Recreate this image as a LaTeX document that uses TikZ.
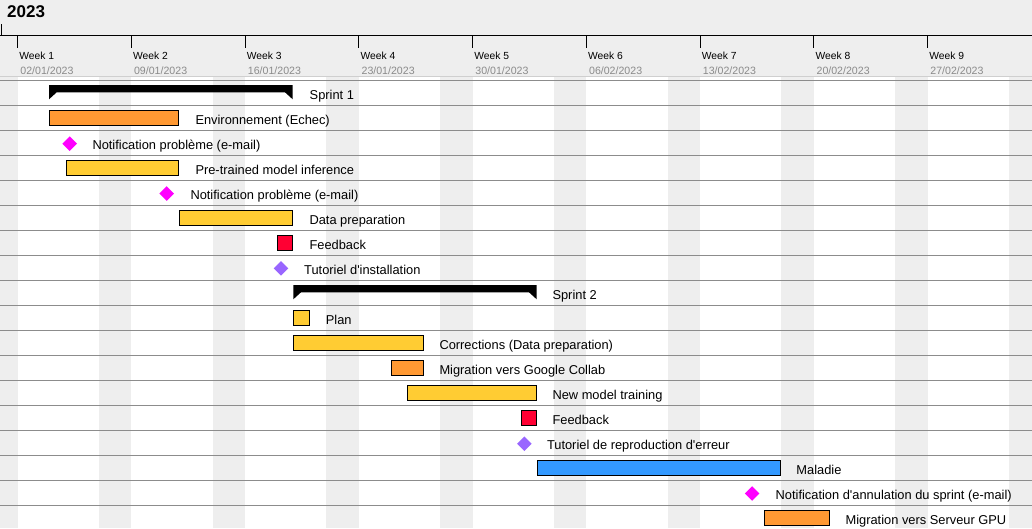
\documentclass[tikz,border=0pt]{standalone}
\usepackage{fontspec}
\setmainfont{Liberation Sans}
\usetikzlibrary{shapes.geometric}
\definecolor{hdrgrey}{HTML}{EEEEEE}
\definecolor{rowline}{HTML}{8C8C8C}
\definecolor{hdrline}{HTML}{CFCFCF}
\definecolor{dategrey}{HTML}{8A8A8A}
\definecolor{barorange}{HTML}{FF9933}
\definecolor{baryellow}{HTML}{FFCC33}
\definecolor{barred}{HTML}{FF0033}
\definecolor{barblue}{HTML}{3399FF}
\definecolor{msmagenta}{HTML}{FF00FF}
\definecolor{mspurple}{HTML}{9966FF}
\newcommand{\apos}{\textquotesingle}
\begin{document}
\begin{tikzpicture}[x=1pt,y=-1pt,
  taskbar/.style={draw=black, line width=1pt, outer sep=0pt, inner sep=0pt,
    minimum height=14.7pt, anchor=west},
  milestone/.style={diamond, inner sep=0pt, outer sep=0pt, minimum width=14.6pt,
    minimum height=14.6pt},
  sprintbar/.style={fill=black},
  tasklabel/.style={inner sep=0pt, anchor=base west,
    font=\fontsize{12.85pt}{14pt}\selectfont},
  weeklabel/.style={inner sep=0pt, anchor=base west,
    font=\fontsize{10.3pt}{12pt}\selectfont},
  datelabel/.style={inner sep=0pt, anchor=base west, text=dategrey,
    font=\fontsize{10.6pt}{12pt}\selectfont},
  yearlabel/.style={inner sep=0pt, anchor=base west,
    font=\fontsize{17pt}{20pt}\selectfont\bfseries},
  rule/.style={draw=rowline, line width=1pt}]
\useasboundingbox (0,0) rectangle (1032,528);

% background: header and weekend shading
\fill[hdrgrey] (0,0) rectangle (1032,528);
\foreach \i in {0,...,8} {
  \fill[white] ({17.5+113.75*\i},77) rectangle ({17.5+113.75*\i+81.25},528);
}

% header scale
\node[yearlabel] (year) at (7,17.7) {2023};
\draw[black, line width=1pt] (0,35.5) -- (1032,35.5);
\draw[black, line width=1pt] (1.5,24) -- (1.5,35.5);
\foreach \i in {0,...,8} {
  \pgfmathsetmacro{\wx}{17.5+113.75*\i}
  \draw[black, line width=1pt] (\wx,35.5) -- (\wx,48);
  \pgfmathtruncatemacro{\wn}{\i+1}
  \node[weeklabel] (w\i) at (\wx+1.6,59.6) {Week \wn};
}
\node[datelabel] (d0) at (20.2,74) {02/01/2023};
\node[datelabel] (d1) at (133.9,74) {09/01/2023};
\node[datelabel] (d2) at (247.7,74) {16/01/2023};
\node[datelabel] (d3) at (361.4,74) {23/01/2023};
\node[datelabel] (d4) at (475.2,74) {30/01/2023};
\node[datelabel] (d5) at (588.9,74) {06/02/2023};
\node[datelabel] (d6) at (702.7,74) {13/02/2023};
\node[datelabel] (d7) at (816.4,74) {20/02/2023};
\node[datelabel] (d8) at (930.2,74) {27/02/2023};

% row separators
\draw[hdrline, line width=1pt] (0,76.5) -- (1032,76.5);
\foreach \k in {0,...,17} {
  \draw[rule] (0,{80+25*\k}) -- (1032,{80+25*\k});
}

% Sprint 1
\fill[sprintbar] (49,85) -- (292.7,85) -- (292.7,99.3) -- (285,92.3)
  -- (56.7,92.3) -- (49,99.3) -- cycle;
\coordinate (s1) at (292.7,92);
\node[tasklabel] (l0) at (309.5,99) {Sprint 1};

% tasks of sprint 1
\node[taskbar, fill=barorange, minimum width=129.3pt] (b1) at (49.5,117.85) {};
\node[tasklabel] (l1) at (195.3,124) {Environnement (Echec)};

\node[milestone, fill=msmagenta] (m2) at (69.7,143.7) {};
\node[tasklabel] (l2) at (92.3,149) {Notification problème (e-mail)};

\node[taskbar, fill=baryellow, minimum width=112.3pt] (b3) at (66.5,167.85) {};
\node[tasklabel] (l3) at (195.3,174) {Pre-trained model inference};

\node[milestone, fill=msmagenta] (m4) at (166.7,193.5) {};
\node[tasklabel] (l4) at (190.3,199) {Notification problème (e-mail)};

\node[taskbar, fill=baryellow, minimum width=113pt] (b5) at (179.8,217.85) {};
\node[tasklabel] (l5) at (309.3,224) {Data preparation};

\node[taskbar, fill=barred, minimum width=15pt] (b6) at (277.8,242.85) {};
\node[tasklabel] (l6) at (309.3,249) {Feedback};

\node[milestone, fill=mspurple] (m7) at (281,268.3) {};
\node[tasklabel] (l7) at (304,274) {Tutoriel d\apos installation};

% Sprint 2
\fill[sprintbar] (293.3,285) -- (536.7,285) -- (536.7,299.3) -- (529,292.3)
  -- (301,292.3) -- (293.3,299.3) -- cycle;
\coordinate (s2) at (536.7,292);
\node[tasklabel] (l8) at (552.3,299) {Sprint 2};

% tasks of sprint 2
\node[taskbar, fill=baryellow, minimum width=15.4pt] (b9) at (293.8,317.85) {};
\node[tasklabel] (l9) at (325.7,324) {Plan};

\node[taskbar, fill=baryellow, minimum width=129.4pt] (b10) at (293.8,342.85) {};
\node[tasklabel] (l10) at (439.3,349) {Corrections (Data preparation)};

\node[taskbar, fill=barorange, minimum width=31.7pt] (b11) at (391.5,367.85) {};
\node[tasklabel] (l11) at (439.3,374) {Migration vers Google Collab};

\node[taskbar, fill=baryellow, minimum width=129pt] (b12) at (407.8,392.85) {};
\node[tasklabel] (l12) at (552.3,399) {New model training};

\node[taskbar, fill=barred, minimum width=15.6pt] (b13) at (521.2,417.85) {};
\node[tasklabel] (l13) at (552.3,424) {Feedback};

\node[milestone, fill=mspurple] (m14) at (524.4,443.7) {};
\node[tasklabel] (l14) at (546.8,449) {Tutoriel de reproduction d\apos erreur};

\node[taskbar, fill=barblue, minimum width=242.7pt] (b15) at (537.8,467.85) {};
\node[tasklabel] (l15) at (796.2,474) {Maladie};

\node[milestone, fill=msmagenta] (m16) at (752.1,493.5) {};
\node[tasklabel] (l16) at (775.5,499) {Notification d\apos annulation du sprint (e-mail)};

\node[taskbar, fill=barorange, minimum width=64.5pt] (b17) at (764.8,517.85) {};
\node[tasklabel] (l17) at (845.4,524) {Migration vers Serveur GPU};
\end{tikzpicture}
\end{document}
